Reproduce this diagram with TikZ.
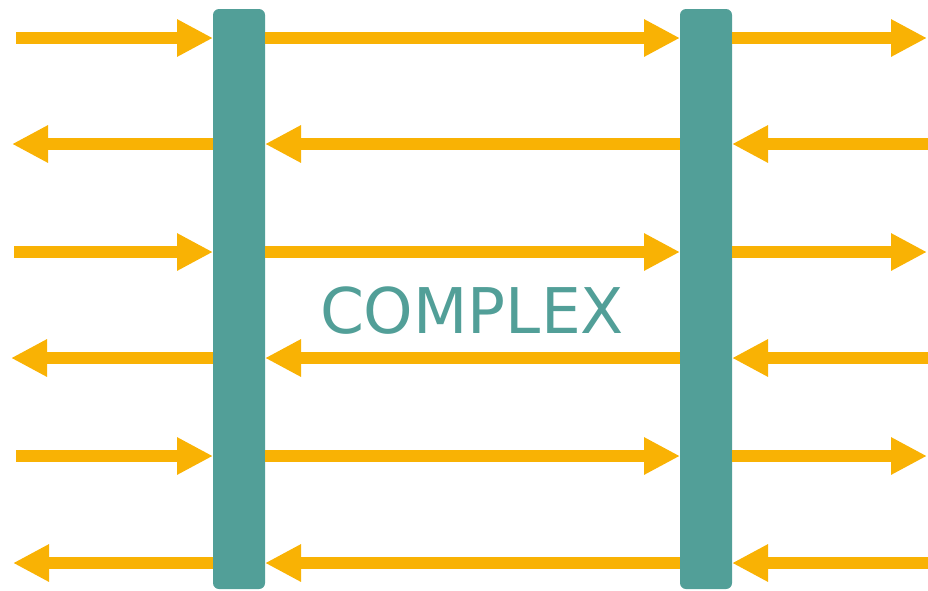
\documentclass[tikz,border=0pt]{standalone}
\usepackage{fontspec}
\setmainfont{DejaVu Sans}
\usetikzlibrary{arrows.meta}
\definecolor{teal1}{RGB}{82,159,152}
\definecolor{gold1}{RGB}{249,178,4}
\tikzset{
  bar/.style={fill=teal1, draw=none, rounded corners=6pt, minimum width=52pt, minimum height=580pt, inner sep=0pt, outer sep=0pt},
  flow/.style={draw=gold1, line width=12pt, -{Triangle[length=36pt 0 0, width=35pt 0 0, fill=gold1]}},
}
\begin{document}
\begin{tikzpicture}[x=1pt, y=-1pt]
\useasboundingbox (0,0) rectangle (928,590);
\node[bar] (L) at (239,299) {};
\node[bar] (R) at (706,299) {};
% free ends, left side
\coordinate (l1) at (16,38);
\coordinate (l2) at (12,144);
\coordinate (l3) at (14,252);
\coordinate (l4) at (11,358);
\coordinate (l5) at (16,456);
\coordinate (l6) at (13,563);
% free ends, right side
\coordinate (r1) at (927,38);
\coordinate (r2) at (928,144);
\coordinate (r3) at (927,252);
\coordinate (r4) at (928,358);
\coordinate (r5) at (927,456);
\coordinate (r6) at (928,563);
% rightward rows
\foreach \i in {1,3,5} {
  \draw[flow] (l\i) -- (L.west |- l\i);
  \draw[flow] (L.east |- l\i) -- (R.west |- l\i);
  \draw[flow] (R.east |- l\i) -- (r\i);
}
% leftward rows
\foreach \i in {2,4,6} {
  \draw[flow] (L.west |- l\i) -- (l\i);
  \draw[flow] (R.west |- l\i) -- (L.east |- l\i);
  \draw[flow] (r\i) -- (R.east |- l\i);
}
\node[text=teal1, font=\fontsize{63pt}{70pt}\selectfont, anchor=base, inner sep=0pt] (t) at (472,333) {COMPLEX};
\end{tikzpicture}
\end{document}
